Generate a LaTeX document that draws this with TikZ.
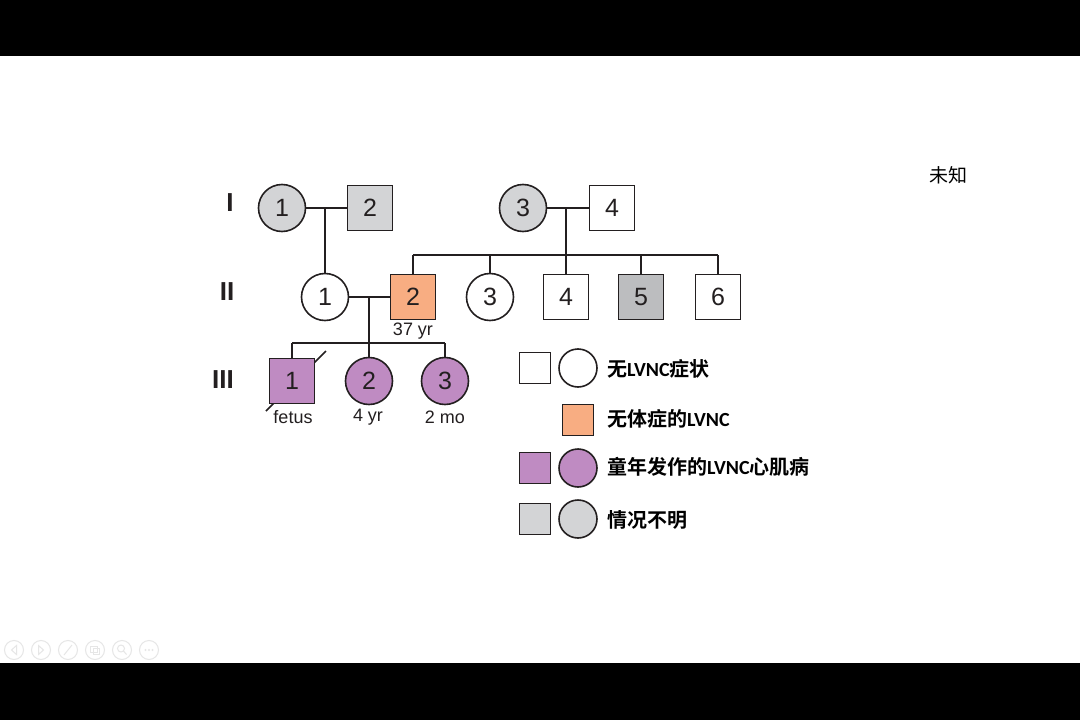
\documentclass[tikz,border=0pt]{standalone}
\usepackage{fontspec}
\setmainfont{Liberation Sans}
\newfontfamily\cjkb{Noto Sans CJK SC}[UprightFont=* Bold]
\newfontfamily\cjkr{Noto Sans CJK SC}
\newfontfamily\carb{Carlito}[UprightFont=* Bold]
\definecolor{lc}{HTML}{231F20}
\definecolor{gfill}{HTML}{D3D4D6}
\definecolor{gdark}{HTML}{BCBDBF}
\definecolor{pfill}{HTML}{BF8BC2}
\definecolor{ofill}{HTML}{F8AD82}
\definecolor{icon}{HTML}{E6E6E6}
\newcommand{\numfont}{\fontsize{25}{30}\selectfont}
\newcommand{\lvnc}{{\carb LVNC}}
\begin{document}
\begin{tikzpicture}[x=1pt,y=-1pt,
  ln/.style={line width=1.6pt, draw=lc},
  sq/.style={rectangle, draw=lc, line width=1.6pt, minimum size=45pt, inner sep=0pt, font=\numfont, text=lc},
  ci/.style={circle, draw=lc, line width=1.6pt, minimum size=47pt, inner sep=0pt, font=\numfont, text=lc},
  lsq/.style={rectangle, draw=lc, line width=1.6pt, minimum size=31pt, inner sep=0pt},
  lci/.style={circle, draw=lc, line width=1.6pt, minimum size=38pt, inner sep=0pt},
  gen/.style={font=\fontsize{26}{30}\selectfont\bfseries, text=lc},
  age/.style={font=\fontsize{18}{20}\selectfont, text=lc},
  legtxt/.style={anchor=west, font=\cjkb\fontsize{20}{24}\selectfont, text=black, inner sep=0pt},
  ic/.style={draw=icon, line width=1pt}]
\useasboundingbox (0,0) rectangle (1080,720);
\fill[white] (0,0) rectangle (1080,720);
\fill[black] (0,0) rectangle (1080,56);
\fill[black] (0,663) rectangle (1080,720);

% toolbar icons
\foreach \x in {14,41,68,95,122,149} { \draw[ic] (\x,650) circle (9.5); }
\draw[ic] (16.5,645.5) -- (11.5,650) -- (16.5,654.5) -- cycle;
\draw[ic] (38.5,645.5) -- (43.5,650) -- (38.5,654.5) -- cycle;
\draw[ic] (64,655) -- (72,645);
\draw[ic] (90.5,646) rectangle (97,652.5);
\draw[ic] (93.5,648.5) rectangle (99.5,654.5);
\draw[ic] (121,648.5) circle (3.5);
\draw[ic] (123.5,651) -- (126.5,654.5);
\foreach \x in {145.5,149,152.5} { \fill[icon] (\x,650) circle (1.2); }

% generation labels
\node[gen] (gI) at (230,203) {I};
\node[gen] (gII) at (227,292) {II};
\node[gen] (gIII) at (223,380) {III};

% generation I
\node[ci, fill=gfill] (i1) at (282,208) {1};
\node[sq, fill=gfill] (i2) at (370,208) {2};
\node[ci, fill=gfill] (i3) at (523,208) {3};
\node[sq, fill=white] (i4) at (612,208) {4};

% generation II
\node[ci, fill=white] (ii1) at (325,297) {1};
\node[sq, fill=ofill] (ii2) at (413,297) {2};
\node[ci, fill=white] (ii3) at (490,297) {3};
\node[sq, fill=white] (ii4) at (566,297) {4};
\node[sq, fill=gdark] (ii5) at (641,297) {5};
\node[sq, fill=white] (ii6) at (718,297) {6};
\node[age] (a37) at (413,331) {37 yr};

% generation III
\coordinate (slA) at (266,411);
\coordinate (slB) at (326,351);
\draw[ln] (slA) -- (slB);
\node[sq, fill=pfill] (iii1) at (292,381) {1};
\node[ci, fill=pfill] (iii2) at (369,381) {2};
\node[ci, fill=pfill] (iii3) at (445,381) {3};
\node[age] (lf) at (293,417) {fetus};
\node[age] (l4) at (368,417) {4 yr};
\node[age] (l2) at (445,417) {2 mo};

% connectors: generation I -> II
\draw[ln] (i1) -- (i2);
\coordinate (m12) at (325,208);
\draw[ln] (m12) -- (ii1.north);
\draw[ln] (i3) -- (i4);
\coordinate (m34) at (566,208);
\coordinate (sibL) at (413,255);
\coordinate (sibR) at (718,255);
\draw[ln] (m34) -- (ii4.north);
\draw[ln] (sibL) -- (sibR);
\draw[ln] (sibL) -- (ii2.north);
\draw[ln] (ii3.north |- sibL) -- (ii3.north);
\draw[ln] (ii5.north |- sibL) -- (ii5.north);
\draw[ln] (sibR) -- (ii6.north);

% connectors: generation II -> III
\draw[ln] (ii1) -- (ii2);
\coordinate (mII) at (369,297);
\coordinate (sib3L) at (292,343);
\coordinate (sib3R) at (445,343);
\draw[ln] (mII) -- (iii2.north);
\draw[ln] (sib3L) -- (sib3R);
\draw[ln] (sib3L) -- (iii1.north);
\draw[ln] (sib3R) -- (iii3.north);

% legend
\node[lsq, fill=white] (k1s) at (535,368) {};
\node[lci, fill=white] (k1c) at (578,368) {};
\node[legtxt] (k1t) at (607,369) {无\lvnc 症状};
\node[lsq, fill=ofill] (k2s) at (578,420) {};
\node[legtxt] (k2t) at (607,419) {无体症的\lvnc};
\node[lsq, fill=pfill] (k3s) at (535,468) {};
\node[lci, fill=pfill] (k3c) at (578,468) {};
\node[legtxt] (k3t) at (607,467) {童年发作的\lvnc 心肌病};
\node[lsq, fill=gfill] (k4s) at (535,519) {};
\node[lci, fill=gfill] (k4c) at (578,519) {};
\node[legtxt] (k4t) at (607,520) {情况不明};

\node[font=\cjkr\fontsize{19}{22}\selectfont, text=black] (unk) at (948,175) {未知};
\end{tikzpicture}
\end{document}
